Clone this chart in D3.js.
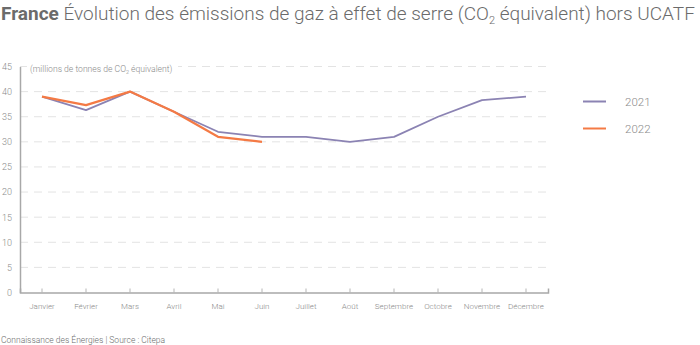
<!DOCTYPE html>
<html><head><meta charset="utf-8">
<script src="https://cdn.jsdelivr.net/npm/d3@7"></script>
<style>
body{margin:0;background:#fff;}
svg{font-family:Roboto,"Noto Sans",sans-serif;}
</style></head>
<body><svg id="c" width="700" height="345"></svg>
<script>
const months = ["Janvier","Février","Mars","Avril","Mai","Juin","Juillet","Août","Septembre","Octobre","Novembre","Décembre"];
const values2021 = [39,36.3,40,36,32,31,31,30,31,35,38.3,39];
const values2022 = [39,37.3,40,36,31,30];
const seriesNames = ["2021","2022"];
const seriesColors = ["#8b83b3","#f47a45"];
const yTicks = [0,5,10,15,20,25,30,35,40,45];

const svg = d3.select("#c");
const m = {l:20, r:548, t:66.5, b:292.5};
const x = d3.scaleBand().domain(months).range([m.l, m.r]).padding(0);
const y = d3.scaleLinear().domain([0,45]).range([m.b, m.t]);
const cx = d => x(d) + x.bandwidth()/2;

// title
const t = svg.append("text").attr("x",1).attr("y",20).attr("font-size",19).attr("fill","#6b6b6b");
t.append("tspan").attr("font-weight",700).text("France");
t.append("tspan").attr("font-weight",300).text(" Évolution des émissions de gaz à effet de serre (CO");
t.append("tspan").attr("font-weight",300).attr("font-size",11).attr("dy",4).text("2");
t.append("tspan").attr("font-weight",300).attr("dy",-4).text(" équivalent) hors UCATF");

// gridlines
svg.append("g").selectAll("line").data(yTicks.filter(d=>d>0)).join("line")
  .attr("x1",m.l).attr("x2",m.r).attr("y1",d=>y(d)).attr("y2",d=>y(d))
  .attr("stroke","#e3e3e3").attr("stroke-width",1).attr("stroke-dasharray","8,6");

// y axis
const ya = svg.append("g").attr("transform",`translate(${m.l},0)`)
  .call(d3.axisLeft(y).tickValues(yTicks).tickSize(0).tickPadding(8));
ya.select(".domain").attr("stroke","#a8a8a8").attr("stroke-width",1.5);
ya.selectAll("text").attr("font-size",9).attr("fill","#8a8a8a").attr("font-family","Roboto").attr("font-weight",300);

// x axis
const xa = svg.append("g").attr("transform",`translate(0,${m.b})`)
  .call(d3.axisTop(x).tickSize(4).tickFormat(""));
xa.select(".domain").attr("stroke","#a8a8a8").attr("stroke-width",1.5);
xa.selectAll(".tick line").attr("stroke","#b5b5b5");
svg.append("g").selectAll("text").data(months).join("text")
  .attr("x",d=>cx(d)).attr("y",m.b+16.5).attr("text-anchor","middle")
  .attr("font-size",8).attr("fill","#8a8a8a").attr("font-weight",300).text(d=>d);

// unit label with white backing
svg.append("rect").attr("x",27).attr("y",y(45)-6).attr("width",151).attr("height",12).attr("fill","#fff");
const u = svg.append("text").attr("x",30).attr("y",72).attr("font-size",8.6).attr("fill","#8a8a8a").attr("font-weight",300);
u.append("tspan").text("(millions de tonnes de CO");
u.append("tspan").attr("font-size",5.5).attr("dy",2).text("2");
u.append("tspan").attr("dy",-2).text(" équivalent)");

// lines
const line = d3.line().x((d,i)=>cx(months[i])).y(d=>y(d));
[values2021, values2022].forEach((vals,k)=>{
  svg.append("path").datum(vals).attr("d",line).attr("fill","none")
    .attr("stroke",seriesColors[k]).attr("stroke-width",k===1?2.2:1.8)
    .attr("stroke-linejoin","round");
});

// legend
seriesNames.forEach((n,k)=>{
  const ly = 101.5 + k*27;
  svg.append("line").attr("x1",583).attr("x2",606).attr("y1",ly).attr("y2",ly)
    .attr("stroke",seriesColors[k]).attr("stroke-width",2);
  svg.append("text").attr("x",625).attr("y",ly+4).attr("font-size",11.5)
    .attr("fill","#8a8a8a").attr("font-weight",300).text(n);
});

// footer
svg.append("text").attr("x",1).attr("y",343).attr("font-size",8.5).attr("fill","#6b6b6b").attr("font-weight",300)
  .text("Connaissance des Énergies | Source : Citepa");
</script></body></html>
